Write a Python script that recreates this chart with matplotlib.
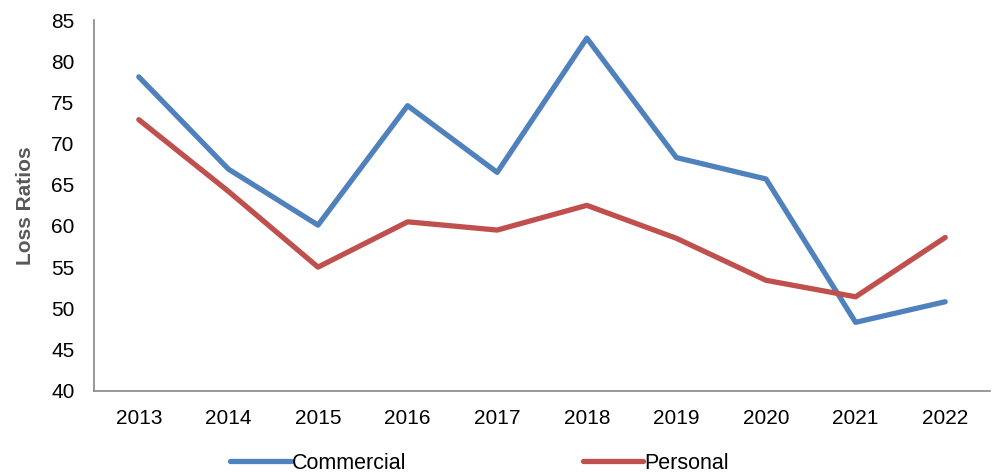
import matplotlib
matplotlib.use("Agg")
import matplotlib.pyplot as plt

plt.rcParams['font.family'] = ['Liberation Sans', 'DejaVu Sans']

years = ['2013', '2014', '2015', '2016', '2017', '2018', '2019', '2020', '2021', '2022']
commercial = [78.1, 66.9, 60.1, 74.6, 66.5, 82.8, 68.3, 65.7, 48.3, 50.8]
personal = [72.9, 64.2, 55.0, 60.5, 59.5, 62.5, 58.5, 53.4, 51.4, 58.6]

fig = plt.figure(figsize=(9.93, 4.73), dpi=100)
ax = fig.add_axes([94 / 993, 1 - 390.7 / 473, 896 / 993, 370.7 / 473])

x = range(len(years))
ax.plot(x, commercial, color='#4F81BD', lw=3.8, label='Commercial', solid_capstyle='round')
ax.plot(x, personal, color='#C0504D', lw=3.8, label='Personal', solid_capstyle='round')

ax.set_xlim(-0.5, len(years) - 0.5)
ax.set_ylim(40, 85)
ax.set_yticks(range(40, 86, 5))
ax.set_xticks(list(x))
ax.set_xticklabels(years)
ax.tick_params(length=0, labelsize=15, colors='black')
ax.tick_params(axis='x', pad=13)
ax.tick_params(axis='y', pad=14)

for side in ['top', 'right']:
    ax.spines[side].set_visible(False)
for side in ['left', 'bottom']:
    ax.spines[side].set_color('#868686')
    ax.spines[side].set_linewidth(1.2)

ax.set_ylabel('Loss Ratios', fontsize=15, fontweight='bold', color='#595959', labelpad=12)

fig.legend(loc='center', bbox_to_anchor=(0.483, 1 - 463 / 473), ncol=2, frameon=False,
           fontsize=15.5, handlelength=2.8, handletextpad=0.05, columnspacing=8.2)

fig.savefig('out.png', dpi=100)
